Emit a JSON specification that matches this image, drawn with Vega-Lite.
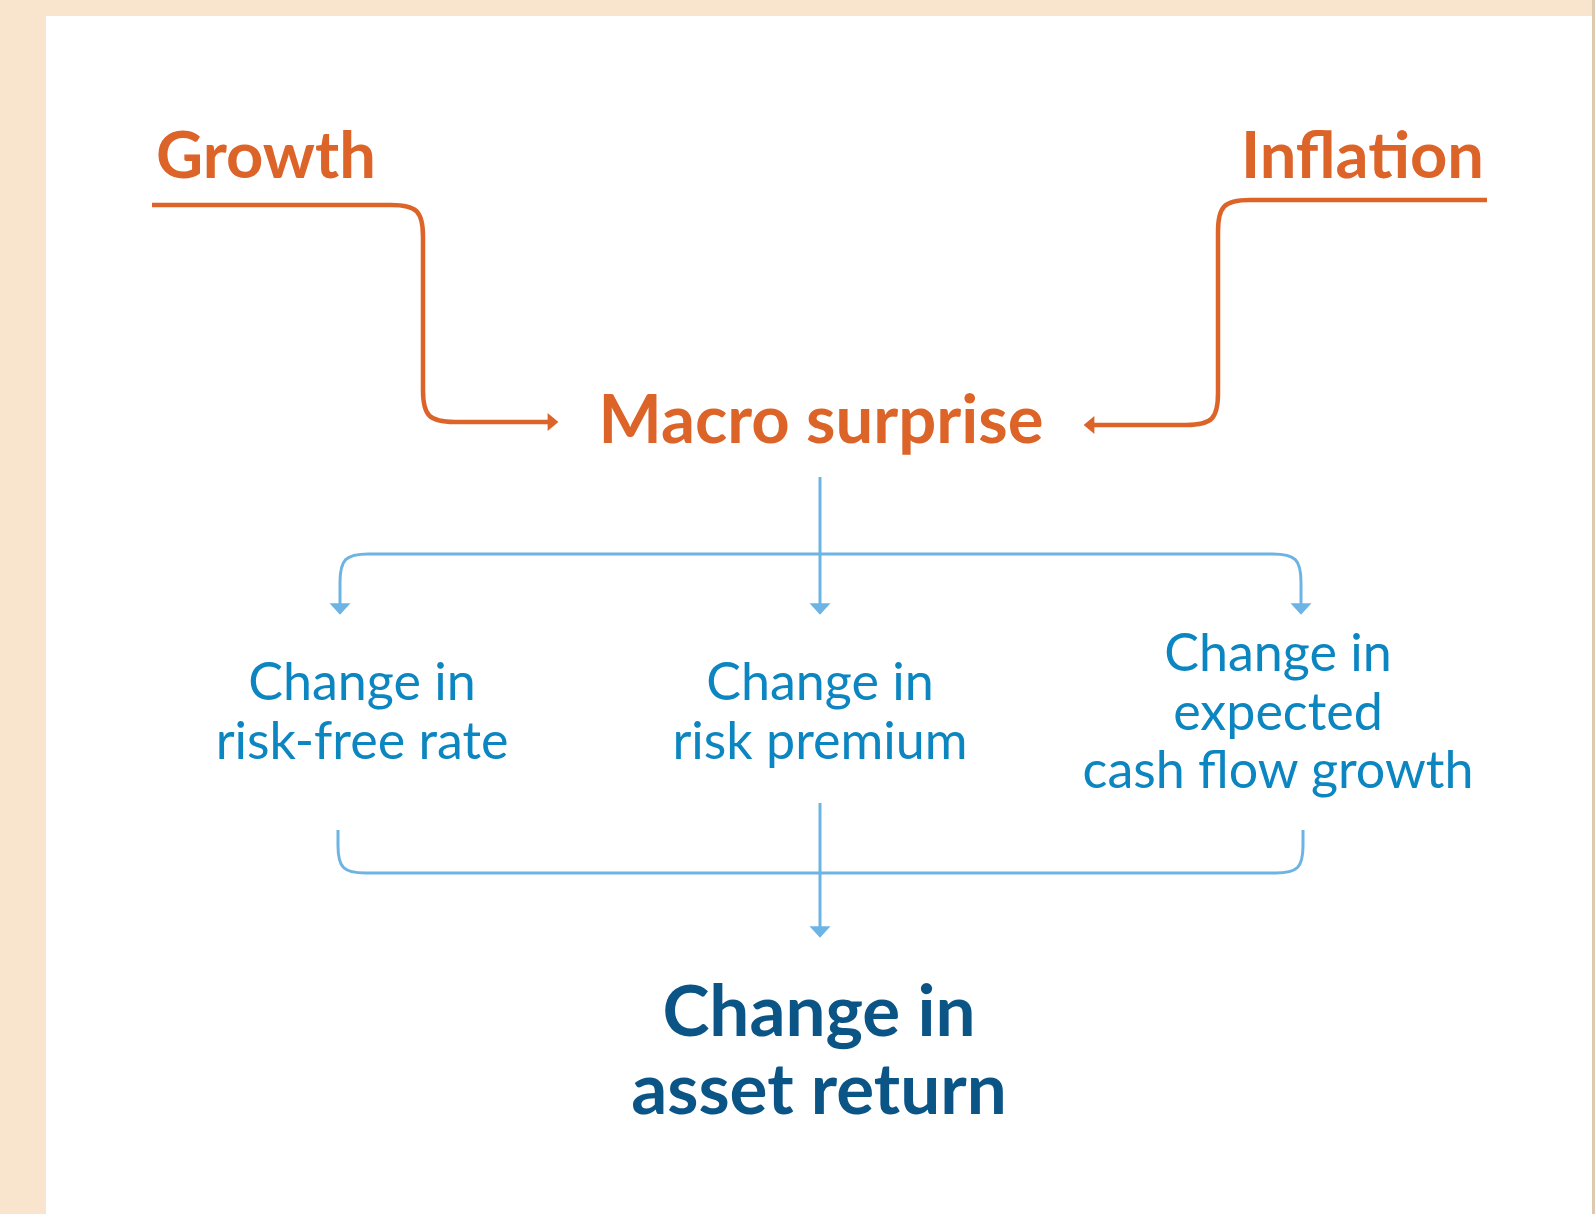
{
  "$schema": "https://vega.github.io/schema/vega-lite/v6.json",
  "autosize": {"type": "fit", "contains": "padding"},
  "width": 1595,
  "height": 1214,
  "padding": 0,
  "background": "#F9E5CD",
  "config": {"view": {"stroke": null}},
  "datasets": {
    "panels": [
      {"part": "page", "x": 46, "x2": 1592, "y": 16, "y2": 1214},
      {"part": "edge", "x": 1592, "x2": 1595, "y": 0, "y2": 1214}
    ],
    "straights": [
      {"seg": "g1", "order": 1, "flow": "macro", "x": 152, "y": 205},
      {"seg": "g1", "order": 2, "flow": "macro", "x": 385, "y": 205},
      {"seg": "g2", "order": 1, "flow": "macro", "x": 423, "y": 243},
      {"seg": "g2", "order": 2, "flow": "macro", "x": 423, "y": 384},
      {"seg": "g3", "order": 1, "flow": "macro", "x": 461, "y": 422},
      {"seg": "g3", "order": 2, "flow": "macro", "x": 552, "y": 422},
      {"seg": "i1", "order": 1, "flow": "macro", "x": 1487, "y": 200},
      {"seg": "i1", "order": 2, "flow": "macro", "x": 1256, "y": 200},
      {"seg": "i2", "order": 1, "flow": "macro", "x": 1218, "y": 238},
      {"seg": "i2", "order": 2, "flow": "macro", "x": 1218, "y": 387},
      {"seg": "i3", "order": 1, "flow": "macro", "x": 1180, "y": 425},
      {"seg": "i3", "order": 2, "flow": "macro", "x": 1090, "y": 425},
      {"seg": "b1", "order": 1, "flow": "channel", "x": 820, "y": 477},
      {"seg": "b1", "order": 2, "flow": "channel", "x": 820, "y": 608},
      {"seg": "b2", "order": 1, "flow": "channel", "x": 374, "y": 554},
      {"seg": "b2", "order": 2, "flow": "channel", "x": 1267, "y": 554},
      {"seg": "b3", "order": 1, "flow": "channel", "x": 340, "y": 588},
      {"seg": "b3", "order": 2, "flow": "channel", "x": 340, "y": 608},
      {"seg": "b4", "order": 1, "flow": "channel", "x": 1301, "y": 588},
      {"seg": "b4", "order": 2, "flow": "channel", "x": 1301, "y": 608},
      {"seg": "c1", "order": 1, "flow": "channel", "x": 338, "y": 830},
      {"seg": "c1", "order": 2, "flow": "channel", "x": 338, "y": 840},
      {"seg": "c2", "order": 1, "flow": "channel", "x": 371, "y": 873},
      {"seg": "c2", "order": 2, "flow": "channel", "x": 1270, "y": 873},
      {"seg": "c3", "order": 1, "flow": "channel", "x": 1303, "y": 840},
      {"seg": "c3", "order": 2, "flow": "channel", "x": 1303, "y": 830},
      {"seg": "c4", "order": 1, "flow": "channel", "x": 820, "y": 803},
      {"seg": "c4", "order": 2, "flow": "channel", "x": 820, "y": 931}
    ],
    "corners": [
      {"seg": "gc1", "order": 1, "flow": "macro", "x": 385, "y": 205},
      {"seg": "gc1", "order": 2, "flow": "macro", "x": 423, "y": 205},
      {"seg": "gc1", "order": 3, "flow": "macro", "x": 423, "y": 243},
      {"seg": "gc2", "order": 1, "flow": "macro", "x": 423, "y": 384},
      {"seg": "gc2", "order": 2, "flow": "macro", "x": 423, "y": 422},
      {"seg": "gc2", "order": 3, "flow": "macro", "x": 461, "y": 422},
      {"seg": "ic1", "order": 1, "flow": "macro", "x": 1256, "y": 200},
      {"seg": "ic1", "order": 2, "flow": "macro", "x": 1218, "y": 200},
      {"seg": "ic1", "order": 3, "flow": "macro", "x": 1218, "y": 238},
      {"seg": "ic2", "order": 1, "flow": "macro", "x": 1218, "y": 387},
      {"seg": "ic2", "order": 2, "flow": "macro", "x": 1218, "y": 425},
      {"seg": "ic2", "order": 3, "flow": "macro", "x": 1180, "y": 425},
      {"seg": "bc1", "order": 1, "flow": "channel", "x": 374, "y": 554},
      {"seg": "bc1", "order": 2, "flow": "channel", "x": 340, "y": 554},
      {"seg": "bc1", "order": 3, "flow": "channel", "x": 340, "y": 588},
      {"seg": "bc2", "order": 1, "flow": "channel", "x": 1267, "y": 554},
      {"seg": "bc2", "order": 2, "flow": "channel", "x": 1301, "y": 554},
      {"seg": "bc2", "order": 3, "flow": "channel", "x": 1301, "y": 588},
      {"seg": "cc1", "order": 1, "flow": "channel", "x": 338, "y": 840},
      {"seg": "cc1", "order": 2, "flow": "channel", "x": 338, "y": 873},
      {"seg": "cc1", "order": 3, "flow": "channel", "x": 371, "y": 873},
      {"seg": "cc2", "order": 1, "flow": "channel", "x": 1270, "y": 873},
      {"seg": "cc2", "order": 2, "flow": "channel", "x": 1303, "y": 873},
      {"seg": "cc2", "order": 3, "flow": "channel", "x": 1303, "y": 840}
    ],
    "heads": [
      {"flow": "macro", "dir": "right", "x": 553, "y": 422},
      {"flow": "macro", "dir": "left", "x": 1089, "y": 425},
      {"flow": "channel", "dir": "down", "x": 340, "y": 609},
      {"flow": "channel", "dir": "down", "x": 820, "y": 609},
      {"flow": "channel", "dir": "down", "x": 1301, "y": 609},
      {"flow": "channel", "dir": "down", "x": 820, "y": 932}
    ],
    "labels": [
      {"role": "driverLeft", "label": "Growth", "x": 156, "y": 178},
      {"role": "driverRight", "label": "Inflation", "x": 1484, "y": 178},
      {"role": "surprise", "label": "Macro surprise", "x": 821, "y": 443},
      {"role": "channel", "label": "Change in\nrisk-free rate", "x": 362, "y": 700},
      {"role": "channel", "label": "Change in\nrisk premium", "x": 820, "y": 700},
      {"role": "channel", "label": "Change in\nexpected\ncash flow growth", "x": 1278, "y": 671},
      {"role": "outcome", "label": "Change in\nasset return", "x": 819, "y": 1036}
    ]
  },
  "layer": [
    {
      "data": {"name": "panels"},
      "mark": {"type": "rect"},
      "encoding": {
        "x": {"field": "x", "type": "quantitative", "scale": {"domain": [0, 1595], "nice": false, "zero": false}, "axis": null},
        "x2": {"field": "x2"},
        "y": {"field": "y", "type": "quantitative", "scale": {"domain": [0, 1214], "nice": false, "zero": false, "reverse": true}, "axis": null},
        "y2": {"field": "y2"},
        "fill": {"field": "part", "type": "nominal", "scale": {"domain": ["page", "edge"], "range": ["#FFFFFF", "#DCC9AE"]}, "legend": null}
      }
    },
    {
      "data": {"name": "straights"},
      "mark": {"type": "line", "interpolate": "linear", "strokeCap": "butt"},
      "encoding": {
        "x": {"field": "x", "type": "quantitative", "scale": {"domain": [0, 1595], "nice": false, "zero": false}, "axis": null},
        "y": {"field": "y", "type": "quantitative", "scale": {"domain": [0, 1214], "nice": false, "zero": false, "reverse": true}, "axis": null},
        "detail": {"field": "seg", "type": "nominal"},
        "order": {"field": "order", "type": "quantitative"},
        "color": {"field": "flow", "type": "nominal", "scale": {"domain": ["macro", "channel"], "range": ["#DC6429", "#6CB4E4"]}, "legend": null},
        "strokeWidth": {"field": "flow", "type": "nominal", "scale": {"domain": ["macro", "channel"], "range": [4.5, 3]}, "legend": null}
      }
    },
    {
      "data": {"name": "corners"},
      "mark": {"type": "line", "interpolate": "basis", "strokeCap": "butt"},
      "encoding": {
        "x": {"field": "x", "type": "quantitative", "scale": {"domain": [0, 1595], "nice": false, "zero": false}, "axis": null},
        "y": {"field": "y", "type": "quantitative", "scale": {"domain": [0, 1214], "nice": false, "zero": false, "reverse": true}, "axis": null},
        "detail": {"field": "seg", "type": "nominal"},
        "order": {"field": "order", "type": "quantitative"},
        "color": {"field": "flow", "type": "nominal", "scale": {"domain": ["macro", "channel"], "range": ["#DC6429", "#6CB4E4"]}, "legend": null},
        "strokeWidth": {"field": "flow", "type": "nominal", "scale": {"domain": ["macro", "channel"], "range": [4.5, 3]}, "legend": null}
      }
    },
    {
      "data": {"name": "heads"},
      "mark": {"type": "point", "filled": true, "opacity": 1, "strokeWidth": 0},
      "encoding": {
        "x": {"field": "x", "type": "quantitative", "scale": {"domain": [0, 1595], "nice": false, "zero": false}, "axis": null},
        "y": {"field": "y", "type": "quantitative", "scale": {"domain": [0, 1214], "nice": false, "zero": false, "reverse": true}, "axis": null},
        "shape": {"field": "dir", "type": "nominal", "scale": {"domain": ["right", "left", "down"], "range": ["M-0.6,-1L0.6,0L-0.6,1Z", "M0.6,-1L-0.6,0L0.6,1Z", "M-1,-0.55L1,-0.55L0,0.55Z"]}, "legend": null},
        "size": {"field": "flow", "type": "nominal", "scale": {"domain": ["macro", "channel"], "range": [324, 441]}, "legend": null},
        "color": {"field": "flow", "type": "nominal", "scale": {"domain": ["macro", "channel"], "range": ["#DC6429", "#6CB4E4"]}, "legend": null}
      }
    },
    {
      "data": {"name": "labels"},
      "transform": [{"filter": "datum.role === 'driverLeft'"}],
      "mark": {"type": "text", "align": "left", "baseline": "alphabetic", "font": "Lato", "fontWeight": "bold", "fontSize": 65, "color": "#DC6429"},
      "encoding": {
        "x": {"field": "x", "type": "quantitative", "scale": {"domain": [0, 1595], "nice": false, "zero": false}, "axis": null},
        "y": {"field": "y", "type": "quantitative", "scale": {"domain": [0, 1214], "nice": false, "zero": false, "reverse": true}, "axis": null},
        "text": {"field": "label"}
      }
    },
    {
      "data": {"name": "labels"},
      "transform": [{"filter": "datum.role === 'driverRight'"}],
      "mark": {"type": "text", "align": "right", "baseline": "alphabetic", "font": "Lato", "fontWeight": "bold", "fontSize": 65, "color": "#DC6429"},
      "encoding": {
        "x": {"field": "x", "type": "quantitative", "scale": {"domain": [0, 1595], "nice": false, "zero": false}, "axis": null},
        "y": {"field": "y", "type": "quantitative", "scale": {"domain": [0, 1214], "nice": false, "zero": false, "reverse": true}, "axis": null},
        "text": {"field": "label"}
      }
    },
    {
      "data": {"name": "labels"},
      "transform": [{"filter": "datum.role === 'surprise'"}],
      "mark": {"type": "text", "align": "center", "baseline": "alphabetic", "font": "Lato", "fontWeight": "bold", "fontSize": 67, "color": "#DC6429"},
      "encoding": {
        "x": {"field": "x", "type": "quantitative", "scale": {"domain": [0, 1595], "nice": false, "zero": false}, "axis": null},
        "y": {"field": "y", "type": "quantitative", "scale": {"domain": [0, 1214], "nice": false, "zero": false, "reverse": true}, "axis": null},
        "text": {"field": "label"}
      }
    },
    {
      "data": {"name": "labels"},
      "transform": [{"filter": "datum.role === 'channel'"}],
      "mark": {"type": "text", "align": "center", "baseline": "alphabetic", "font": "Lato", "fontSize": 52, "lineHeight": 58.5, "lineBreak": "\n", "color": "#0C86C1"},
      "encoding": {
        "x": {"field": "x", "type": "quantitative", "scale": {"domain": [0, 1595], "nice": false, "zero": false}, "axis": null},
        "y": {"field": "y", "type": "quantitative", "scale": {"domain": [0, 1214], "nice": false, "zero": false, "reverse": true}, "axis": null},
        "text": {"field": "label"}
      }
    },
    {
      "data": {"name": "labels"},
      "transform": [{"filter": "datum.role === 'outcome'"}],
      "mark": {"type": "text", "align": "center", "baseline": "alphabetic", "font": "Lato", "fontWeight": "bold", "fontSize": 71, "lineHeight": 78, "lineBreak": "\n", "color": "#0B5486"},
      "encoding": {
        "x": {"field": "x", "type": "quantitative", "scale": {"domain": [0, 1595], "nice": false, "zero": false}, "axis": null},
        "y": {"field": "y", "type": "quantitative", "scale": {"domain": [0, 1214], "nice": false, "zero": false, "reverse": true}, "axis": null},
        "text": {"field": "label"}
      }
    }
  ]
}
